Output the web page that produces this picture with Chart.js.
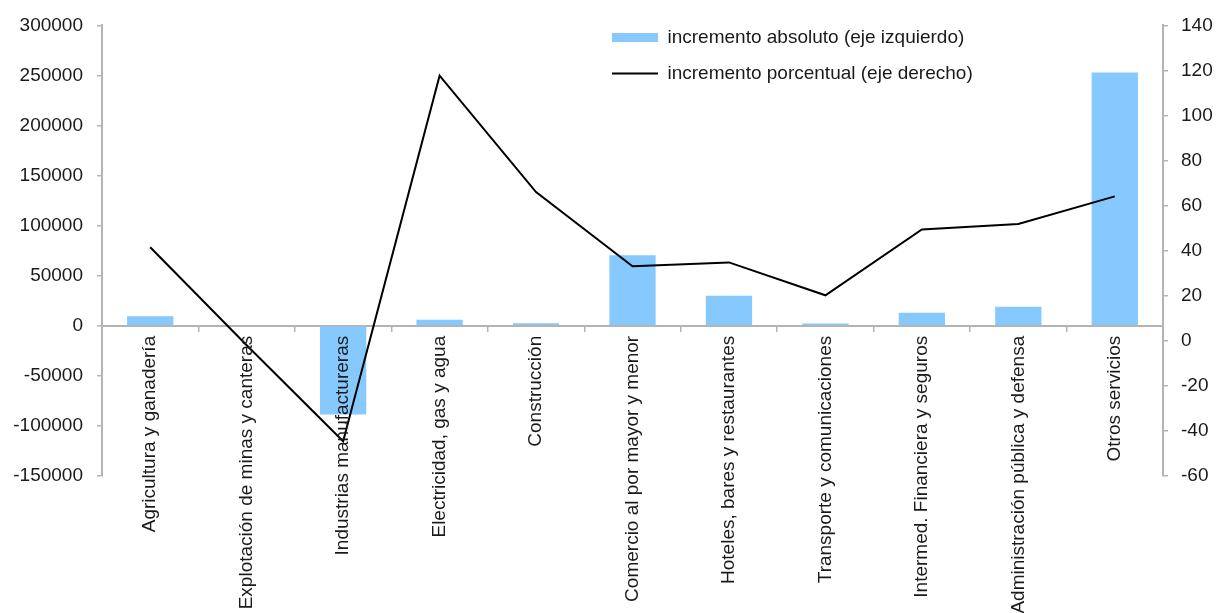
<!DOCTYPE html>
<html>
<head>
<meta charset="utf-8">
<script src="https://cdn.jsdelivr.net/npm/chart.js@4.4.1/dist/chart.umd.min.js"></script>
<style>
  html, body { margin: 0; padding: 0; background: #fff; }
  canvas { display: block; }
</style>
</head>
<body>
<canvas id="mycanvas" width="1217" height="613"></canvas>
<script>
var sectores = [
	'Agricultura y ganadería',
	'Explotación de minas y canteras',
	'Industrias manufactureras',
	'Electricidad, gas y agua',
	'Construcción',
	'Comercio al por mayor y menor',
	'Hoteles, bares y restaurantes',
	'Transporte y comunicaciones',
	'Intermed. Financiera y seguros',
	'Administración pública y defensa',
	'Otros servicios'
];
var incrementoAbsoluto = [9500, 0, -88600, 6000, 2500, 70400, 30000, 2300, 13000, 19000, 253000];
var incrementoPorcentual = [41.5, -2, -44.6, 117.7, 66, 33.1, 34.8, 20.2, 49.4, 51.9, 64.1];

var ejeIzq = { min: -150000, max: 300000, step: 50000 };
var ejeDer = { min: -60, max: 140, step: 20 };

var gris = '#b4b4b4';
var fuente = { family: "'Liberation Sans', Arial, sans-serif", size: 19 };

// moves the legend into the upper right of the plot
var moverLeyenda = {
	id: 'moverLeyenda',
	afterLayout: function(chart) {
		var lg = chart.legend;
		if (!lg) return;
		var w = lg.width, h = lg.height;
		lg.left = 595;
		lg.top = 11;
		lg.right = lg.left + w;
		lg.bottom = lg.top + h;
	}
};

var chartdata = {
	labels: sectores,
	datasets: [
		{
			type: 'bar',
			label: 'incremento absoluto (eje izquierdo)',
			data: incrementoAbsoluto,
			backgroundColor: '#85c9ff',
			borderWidth: 0,
			yAxisID: 'y',
			order: 2,
			pointStyle: 'rect',
			barPercentage: 0.48,
			categoryPercentage: 1
		},
		{
			type: 'line',
			label: 'incremento porcentual (eje derecho)',
			data: incrementoPorcentual,
			borderColor: '#000',
			backgroundColor: '#000',
			borderWidth: 2,
			pointRadius: 0,
			tension: 0,
			yAxisID: 'y1',
			order: 1,
			pointStyle: 'line'
		}
	]
};

var ctx = document.getElementById('mycanvas');

var grafico = new Chart(ctx, {
	data: chartdata,
	plugins: [moverLeyenda],
	options: {
		responsive: false,
		animation: false,
		layout: { padding: { left: 0, right: 0, top: 22, bottom: 137 } },
		plugins: {
			tooltip: { enabled: false },
			legend: {
				position: 'chartArea',
				align: 'start',
				labels: {
					usePointStyle: true,
					pointStyleWidth: 46,
					boxWidth: 46,
					boxHeight: 9,
					padding: 17,
					color: '#1a1a1a',
					font: fuente,
					sort: function(a, b) { return a.datasetIndex - b.datasetIndex; }
				}
			}
		},
		scales: {
			x: {
				position: { y: 0 },
				afterFit: function(s) { s.height = 0; },
				grid: { drawOnChartArea: false, offset: true, tickLength: 5, color: gris, lineWidth: 1.5 },
				border: { color: gris, width: 2 },
				ticks: {
					z: 1,
					autoSkip: false,
					minRotation: 90,
					maxRotation: 90,
					padding: 5,
					color: '#1a1a1a',
					font: fuente
				}
			},
			y: {
				position: 'left',
				min: ejeIzq.min,
				max: ejeIzq.max,
				afterFit: function(s) { s.width = 102; },
				grid: { drawOnChartArea: false, tickLength: 5, color: gris, lineWidth: 1.5 },
				border: { color: gris, width: 2 },
				ticks: {
					stepSize: ejeIzq.step,
					padding: 14,
					color: '#1a1a1a',
					font: fuente,
					callback: function(v) { return String(v); }
				}
			},
			y1: {
				position: 'right',
				min: ejeDer.min,
				max: ejeDer.max,
				afterFit: function(s) { s.width = 54; },
				grid: { drawOnChartArea: false, tickLength: 5, color: gris, lineWidth: 1.5 },
				border: { color: gris, width: 2 },
				ticks: {
					stepSize: ejeDer.step,
					padding: 13,
					color: '#1a1a1a',
					font: fuente,
					callback: function(v) { return String(v); }
				}
			}
		}
	}
});
</script>
</body>
</html>
